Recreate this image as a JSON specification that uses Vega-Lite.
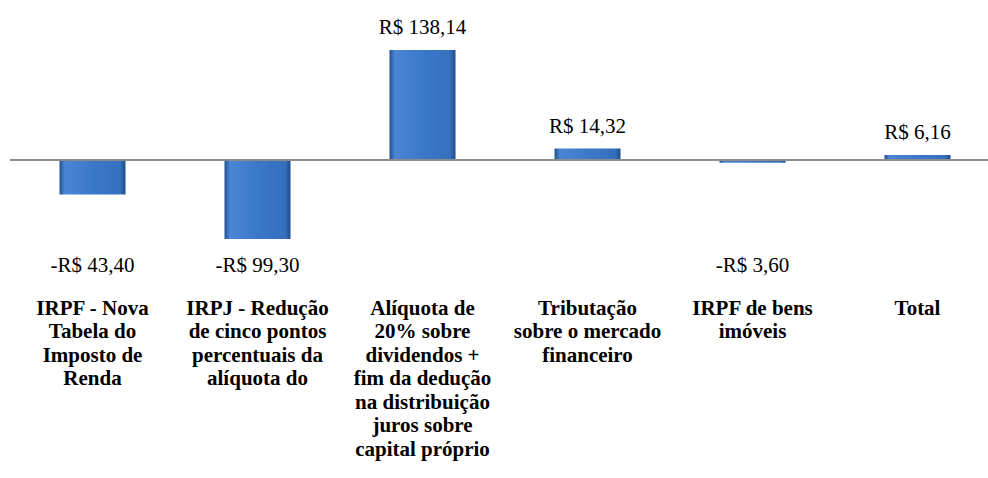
{
  "$schema": "https://vega.github.io/schema/vega-lite/v6.json",
  "autosize": "none",
  "width": 990,
  "height": 290,
  "padding": {"left": 10, "top": 0, "right": 0, "bottom": 188},
  "background": "white",
  "config": {"view": {"stroke": null}},
  "data": {
    "values": [
      {"categoria": "IRPF -  Nova|Tabela do|Imposto de|Renda", "valor": -43.40, "rotulo": "-R$ 43,40"},
      {"categoria": "IRPJ -  Redução|de cinco pontos|percentuais da|alíquota do", "valor": -99.30, "rotulo": "-R$ 99,30"},
      {"categoria": "Alíquota de|20% sobre|dividendos +|fim da dedução|na distribuição|juros sobre|capital próprio", "valor": 138.14, "rotulo": "R$ 138,14"},
      {"categoria": "Tributação|sobre o mercado|financeiro", "valor": 14.32, "rotulo": "R$ 14,32"},
      {"categoria": "IRPF de bens|imóveis", "valor": -3.60, "rotulo": "-R$ 3,60"},
      {"categoria": "Total", "valor": 6.16, "rotulo": "R$ 6,16"}
    ]
  },
  "layer": [
    {
      "mark": {
        "type": "bar",
        "color": {
          "gradient": "linear",
          "x1": 0, "y1": 0, "x2": 1, "y2": 0,
          "stops": [
            {"offset": 0, "color": "#244f91"},
            {"offset": 0.08, "color": "#4a86d4"},
            {"offset": 0.5, "color": "#3b78c8"},
            {"offset": 0.92, "color": "#3570be"},
            {"offset": 1, "color": "#1f4a8a"}
          ]
        }
      },
      "encoding": {
        "x": {
          "field": "categoria",
          "type": "nominal",
          "sort": null,
          "scale": {"paddingInner": 0.6, "paddingOuter": 0.3},
          "axis": {
            "title": null,
            "domain": false,
            "ticks": false,
            "labelAngle": 0,
            "labelExpr": "split(datum.label, '|')",
            "labelFont": "Liberation Serif",
            "labelFontWeight": "bold",
            "labelFontSize": 21,
            "labelLineHeight": 23.5,
            "labelColor": "#000000",
            "labelPadding": 7,
            "labelBaseline": "top",
            "labelLimit": 0
          }
        },
        "y": {
          "field": "valor",
          "type": "quantitative",
          "scale": {"domain": [-163.5, 201], "nice": false, "zero": true},
          "axis": null
        }
      }
    },
    {
      "mark": {"type": "rule", "color": "#8c8c8c", "strokeWidth": 1},
      "encoding": {"y": {"datum": 0, "type": "quantitative"}}
    },
    {
      "transform": [{"filter": "datum.valor > 0"}],
      "mark": {"type": "text", "font": "Liberation Serif", "fontSize": 21, "color": "#000000", "baseline": "alphabetic", "dy": -16},
      "encoding": {
        "x": {"field": "categoria", "type": "nominal", "sort": null},
        "y": {"field": "valor", "type": "quantitative"},
        "text": {"field": "rotulo"}
      }
    },
    {
      "transform": [{"filter": "datum.valor < 0"}],
      "mark": {"type": "text", "font": "Liberation Serif", "fontSize": 21, "color": "#000000", "baseline": "alphabetic"},
      "encoding": {
        "x": {"field": "categoria", "type": "nominal", "sort": null},
        "y": {"datum": -141, "type": "quantitative"},
        "text": {"field": "rotulo"}
      }
    }
  ]
}
